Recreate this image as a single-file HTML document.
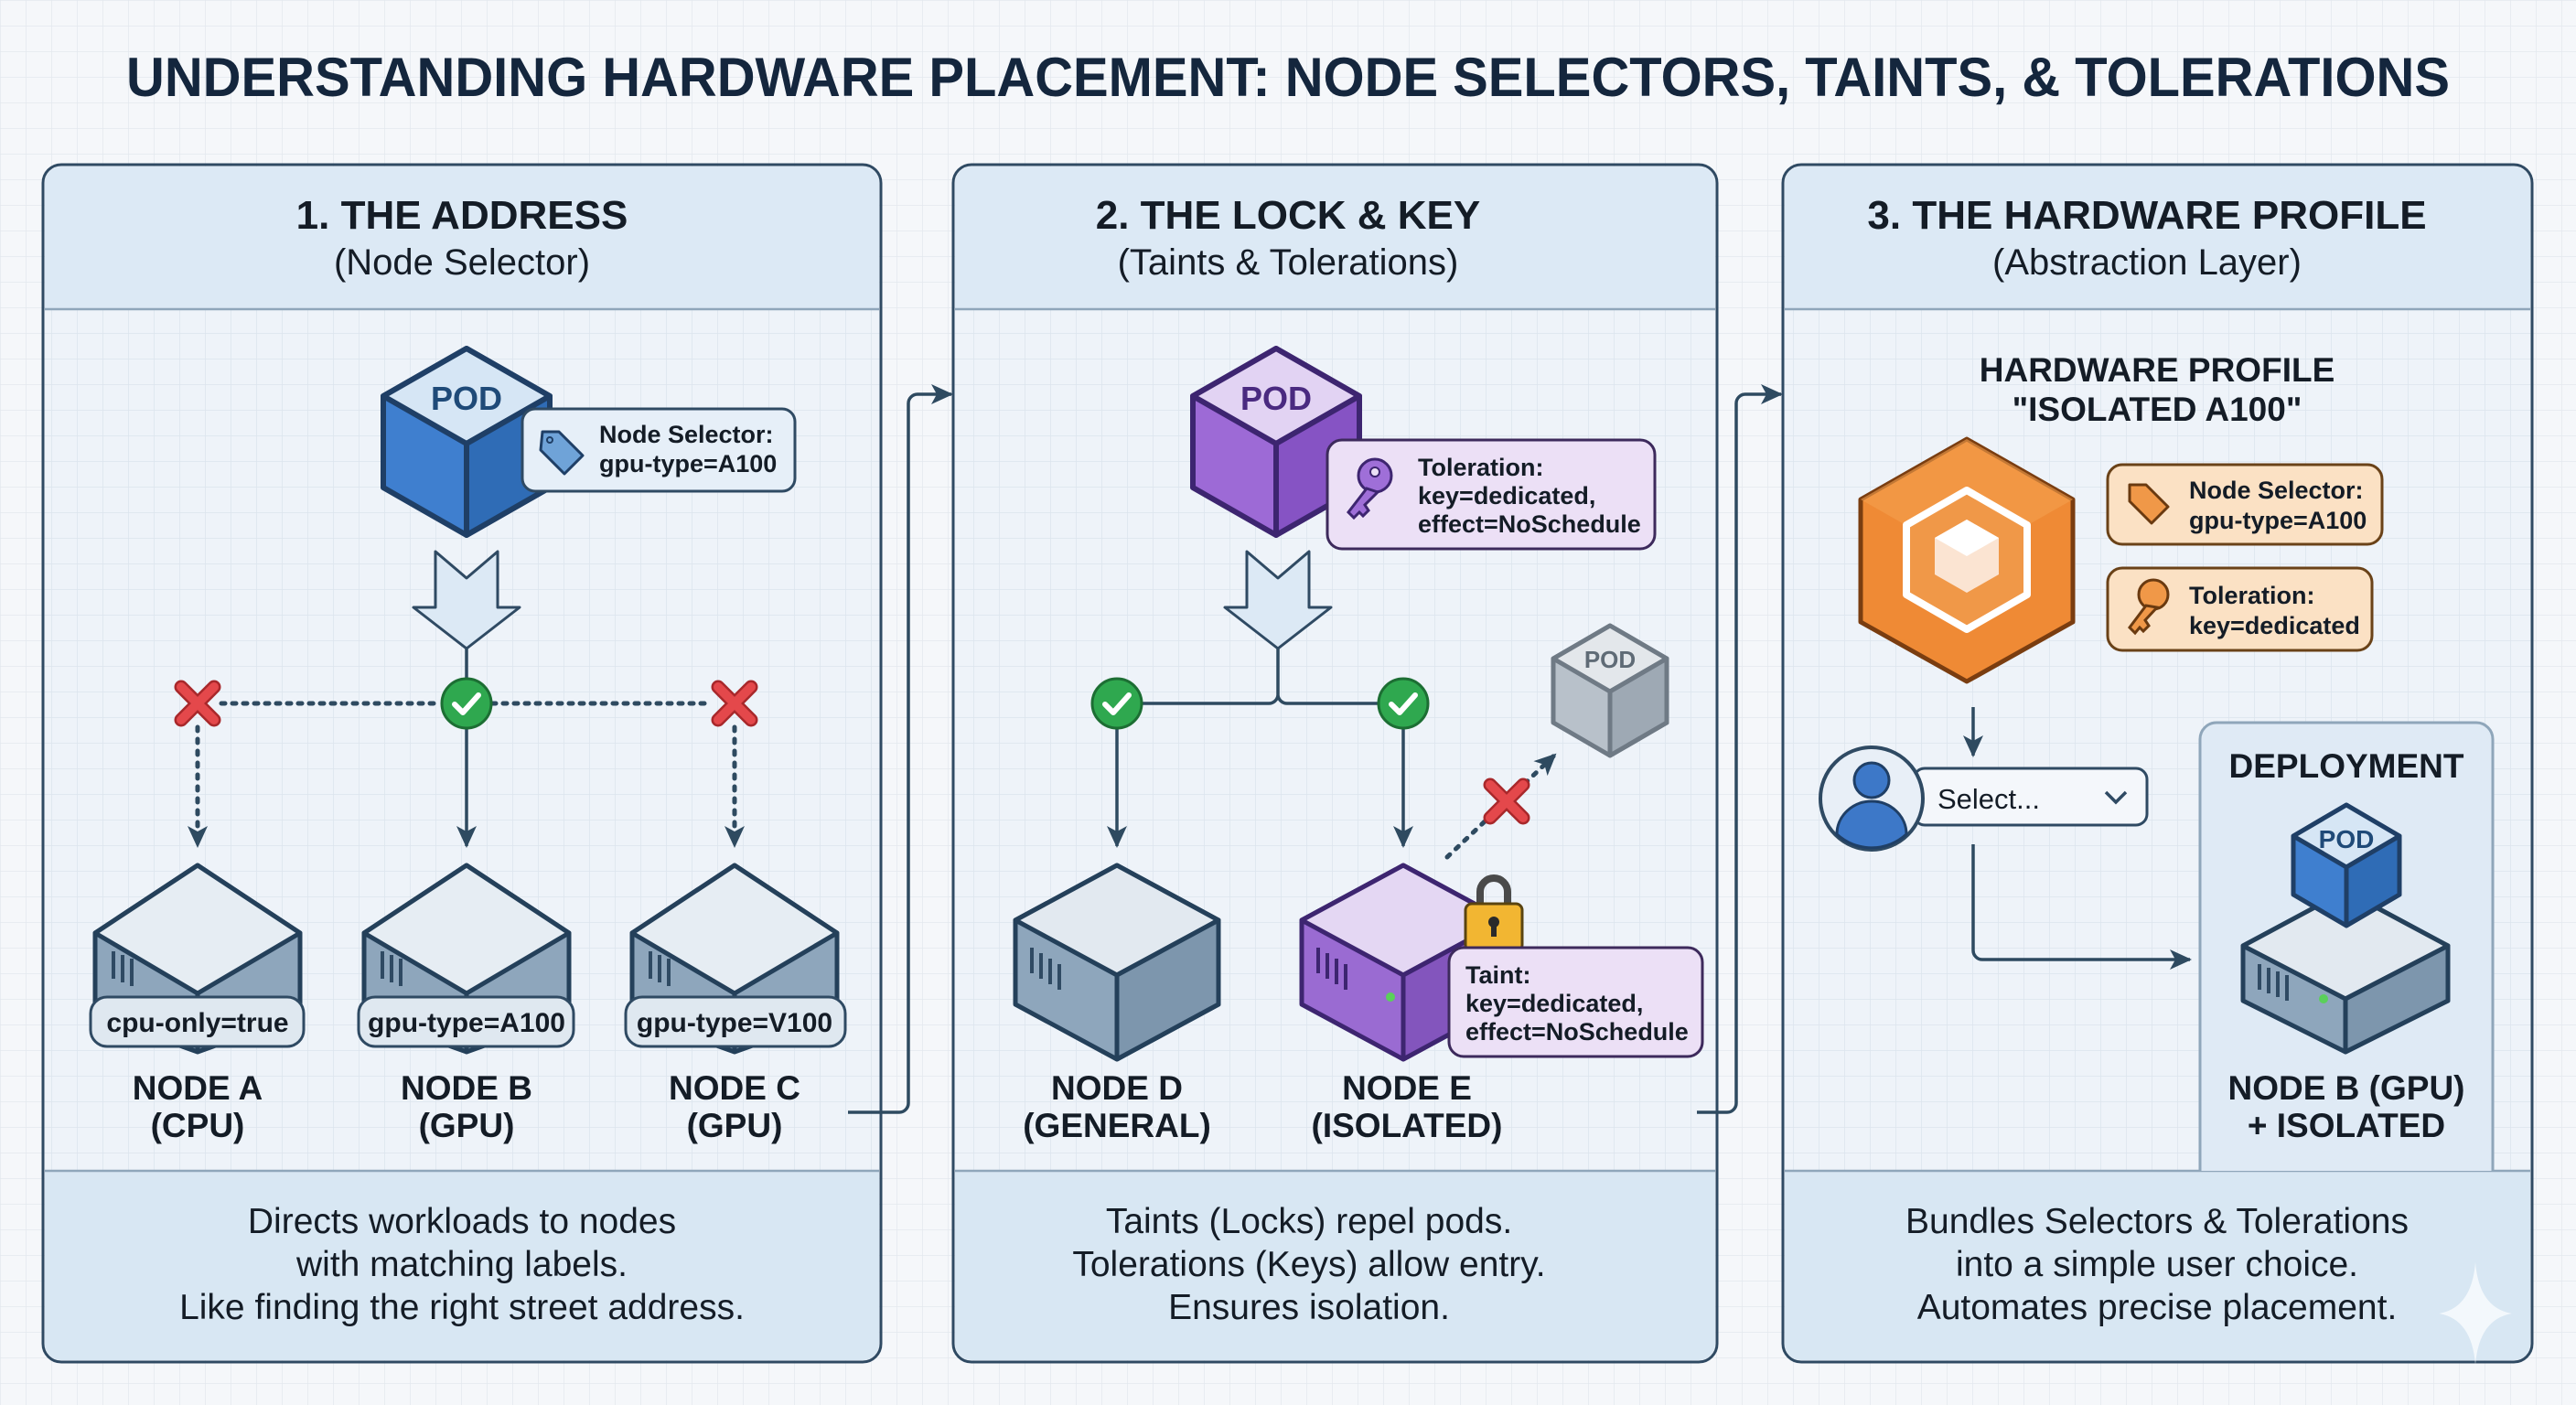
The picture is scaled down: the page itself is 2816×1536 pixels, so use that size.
<!DOCTYPE html>
<html><head><meta charset="utf-8"><style>
html,body{margin:0;padding:0;width:2816px;height:1536px;overflow:hidden;background:#f5f7fa}
svg{display:block}
text{font-family:"Liberation Sans",sans-serif}
</style></head><body>
<svg width="2816" height="1536" viewBox="0 0 2816 1536" xmlns="http://www.w3.org/2000/svg">
<defs>
<pattern id="g" width="28" height="28" patternUnits="userSpaceOnUse"><path d="M28 0H0V28" fill="none" stroke="#e3e8ee" stroke-width="1.5"/></pattern>
<pattern id="g2" width="28" height="28" patternUnits="userSpaceOnUse"><rect width="28" height="28" fill="#eef3f9"/><path d="M28 0H0V28" fill="none" stroke="#dce4ee" stroke-width="1.5"/></pattern>
<marker id="ahb" markerWidth="26" markerHeight="26" refX="22" refY="13" orient="auto" markerUnits="userSpaceOnUse"><path d="M0 2L24 13L0 24L6 13z" fill="#2e4a60"/></marker>
<g id="chk"><circle r="27" fill="#2fa84f" stroke="#1c6e33" stroke-width="3"/><path d="M-13 1L-4 10L13 -9" fill="none" stroke="#fff" stroke-width="6" stroke-linecap="round" stroke-linejoin="round"/></g>
<g id="xx"><path d="M-18 -18L18 18M18 -18L-18 18" stroke="#a8282b" stroke-width="15" stroke-linecap="round"/><path d="M-18 -18L18 18M18 -18L-18 18" stroke="#e4484b" stroke-width="10" stroke-linecap="round"/></g>
</defs>
<rect width="2816" height="1536" fill="url(#g)"/>

<text x="1408" y="105" text-anchor="middle" font-size="60" font-weight="700" fill="#14263d" textLength="2540" lengthAdjust="spacingAndGlyphs">UNDERSTANDING HARDWARE PLACEMENT: NODE SELECTORS, TAINTS, &amp; TOLERATIONS</text>

<g stroke="#2f4a63" stroke-width="3">
<rect x="47" y="180" width="916" height="1309" rx="20" fill="url(#g2)"/>
<rect x="1042" y="180" width="835" height="1309" rx="20" fill="url(#g2)"/>
<rect x="1949" y="180" width="819" height="1309" rx="20" fill="url(#g2)"/>
</g>
<g fill="#dce9f5">
<path d="M49 338V200a18 18 0 0 1 18-18H943a18 18 0 0 1 18 18V338z"/>
<path d="M1044 338V200a18 18 0 0 1 18-18H1857a18 18 0 0 1 18 18V338z"/>
<path d="M1951 338V200a18 18 0 0 1 18-18H2748a18 18 0 0 1 18 18V338z"/>
</g>
<g fill="#d8e7f3">
<path d="M49 1280V1469a18 18 0 0 0 18 18H943a18 18 0 0 0 18-18V1280z"/>
<path d="M1044 1280V1469a18 18 0 0 0 18 18H1857a18 18 0 0 0 18-18V1280z"/>
<path d="M1951 1280V1469a18 18 0 0 0 18 18H2748a18 18 0 0 0 18-18V1280z"/>
</g>
<g stroke="#8fa6ba" stroke-width="2.5">
<path d="M49 338H961M1044 338H1875M1951 338H2766"/>
<path d="M49 1280H961M1044 1280H1875M1951 1280H2766"/>
</g>

<g text-anchor="middle" fill="#141c26">
<text x="505" y="250" font-size="44" font-weight="700">1. THE ADDRESS</text>
<text x="505" y="300" font-size="40">(Node Selector)</text>
<text x="1408" y="250" font-size="44" font-weight="700">2. THE LOCK &amp; KEY</text>
<text x="1408" y="300" font-size="40">(Taints &amp; Tolerations)</text>
<text x="2347" y="250" font-size="44" font-weight="700">3. THE HARDWARE PROFILE</text>
<text x="2347" y="300" font-size="40">(Abstraction Layer)</text>
</g>
<g text-anchor="middle" fill="#141c26" font-size="39">
<text x="505" y="1348">Directs workloads to nodes</text>
<text x="505" y="1395">with matching labels.</text>
<text x="505" y="1442">Like finding the right street address.</text>
<text x="1431" y="1348">Taints (Locks) repel pods.</text>
<text x="1431" y="1395">Tolerations (Keys) allow entry.</text>
<text x="1431" y="1442">Ensures isolation.</text>
<text x="2358" y="1348">Bundles Selectors &amp; Tolerations</text>
<text x="2358" y="1395">into a simple user choice.</text>
<text x="2358" y="1442">Automates precise placement.</text>
</g>

<g fill="none" stroke="#2e4a60" stroke-width="3.5">
<path d="M927 1216H983a10 10 0 0 0 10-10V441a10 10 0 0 1 10-10H1040" marker-end="url(#ahb)"/>
<path d="M1855 1216H1888a10 10 0 0 0 10-10V441a10 10 0 0 1 10-10H1947" marker-end="url(#ahb)"/>
</g>

<!-- ===== PANEL 1 ===== -->
<g stroke="#1f3f66" stroke-width="6" stroke-linejoin="round">
<path d="M510 381L601 433V533L510 585L419 533V433Z" fill="#3f7fcf"/>
<path d="M510 381L601 433L510 485L419 433Z" fill="#d6e6f5"/>
<path d="M510 485V585L601 533V433Z" fill="#2f6cb6"/>
</g>
<text x="510" y="448" text-anchor="middle" font-size="36" font-weight="700" fill="#1f4a78">POD</text>
<rect x="571" y="447" width="298" height="90" rx="14" fill="#e6eff8" stroke="#2f4a63" stroke-width="3"/>
<path d="M593 472h18l26 26l-20 20l-26 -26z" fill="#6fa3d8" stroke="#1f3f66" stroke-width="3" stroke-linejoin="round"/>
<circle cx="601" cy="481" r="3" fill="none" stroke="#1f3f66" stroke-width="2"/>
<text x="655" y="484" font-size="27" font-weight="700" fill="#141c26">Node Selector:</text>
<text x="655" y="516" font-size="27" font-weight="700" fill="#141c26">gpu-type=A100</text>
<path d="M476 603L510 632L544 603V664H568L510 709L452 664H476Z" fill="#dce9f5" stroke="#2f4a63" stroke-width="3" stroke-linejoin="round"/>
<g stroke="#2e4a60" stroke-width="3.5" fill="none">
<path d="M510 709V742"/>
<path d="M242 769H482M538 769H778" stroke-dasharray="4 8" stroke-linecap="round" stroke-width="5"/>
<path d="M510 796V925" marker-end="url(#ahb)"/>
<path d="M216 795V925" stroke-dasharray="4 9" stroke-linecap="round" stroke-width="5" marker-end="url(#ahb)"/>
<path d="M803 795V925" stroke-dasharray="4 9" stroke-linecap="round" stroke-width="5" marker-end="url(#ahb)"/>
</g>
<use href="#xx" x="216" y="769"/><use href="#chk" x="510" y="769"/><use href="#xx" x="803" y="769"/>

<g stroke="#24405a" stroke-width="5" stroke-linejoin="round">
<g>
<path d="M104 1020V1110L216 1150L328 1110V1020L216 946Z" fill="#8ea6bc"/>
<path d="M104 1020L216 946L328 1020L216 1086Z" fill="#e6edf3"/>
<path d="M216 1086V1150" fill="none"/>
</g>
<g transform="translate(294 0)">
<path d="M104 1020V1110L216 1150L328 1110V1020L216 946Z" fill="#8ea6bc"/>
<path d="M104 1020L216 946L328 1020L216 1086Z" fill="#e6edf3"/>
<path d="M216 1086V1150" fill="none"/>
</g>
<g transform="translate(587 0)">
<path d="M104 1020V1110L216 1150L328 1110V1020L216 946Z" fill="#8ea6bc"/>
<path d="M104 1020L216 946L328 1020L216 1086Z" fill="#e6edf3"/>
<path d="M216 1086V1150" fill="none"/>
</g>
</g>
<g stroke="#2f4a63" stroke-width="4">
<path d="M124 1040v30M134 1044v30M144 1048v30"/>
<path d="M418 1040v30M428 1044v30M438 1048v30"/>
<path d="M711 1040v30M721 1044v30M731 1048v30"/>
</g>
<g fill="#dfe8f0" stroke="#2f4a63" stroke-width="3">
<rect x="99" y="1090" width="233" height="54" rx="18"/>
<rect x="392" y="1090" width="235" height="54" rx="18"/>
<rect x="684" y="1090" width="240" height="54" rx="18"/>
</g>
<g text-anchor="middle" font-size="30" font-weight="700" fill="#141c26">
<text x="216" y="1128">cpu-only=true</text>
<text x="510" y="1128">gpu-type=A100</text>
<text x="803" y="1128">gpu-type=V100</text>
</g>
<g text-anchor="middle" font-size="37" font-weight="700" fill="#141c26">
<text x="216" y="1202">NODE A</text><text x="216" y="1243">(CPU)</text>
<text x="510" y="1202">NODE B</text><text x="510" y="1243">(GPU)</text>
<text x="803" y="1202">NODE C</text><text x="803" y="1243">(GPU)</text>
</g>

<!-- ===== PANEL 2 ===== -->
<g stroke="#3d2570" stroke-width="6" stroke-linejoin="round">
<path d="M1395 381L1486 433V533L1395 585L1304 533V433Z" fill="#9d6ad6"/>
<path d="M1395 381L1486 433L1395 485L1304 433Z" fill="#e2d3f3"/>
<path d="M1395 485V585L1486 533V433Z" fill="#8653c4"/>
</g>
<text x="1395" y="448" text-anchor="middle" font-size="36" font-weight="700" fill="#4a2a80">POD</text>
<rect x="1451" y="481" width="358" height="119" rx="16" fill="#ece0f6" stroke="#3d2a5c" stroke-width="3"/>
<g fill="#9f6fd8" stroke="#3d2570" stroke-width="3">
<circle cx="1503" cy="520" r="18"/>
<path d="M1494 534L1474 560L1480 566L1486 560L1490 564L1496 558L1492 552L1506 538Z"/>
</g>
<circle cx="1503" cy="516" r="5" fill="#ece0f6" stroke="#3d2570" stroke-width="2"/>
<g font-size="27" font-weight="700" fill="#141c26">
<text x="1550" y="520">Toleration:</text><text x="1550" y="551">key=dedicated,</text><text x="1550" y="582">effect=NoSchedule</text>
</g>
<path d="M1363 603L1397 632L1431 603V664H1455L1397 709L1339 664H1363Z" fill="#dce9f5" stroke="#2f4a63" stroke-width="3" stroke-linejoin="round"/>
<g stroke="#2e4a60" stroke-width="3.5" fill="none">
<path d="M1397 709V760M1248 769H1387a10 10 0 0 0 10-9a10 10 0 0 0 10 9H1507"/>
<path d="M1221 796V925" marker-end="url(#ahb)"/>
<path d="M1534 796V925" marker-end="url(#ahb)"/>
<path d="M1582 937L1700 825" stroke-dasharray="4 9" stroke-linecap="round" stroke-width="5" marker-end="url(#ahb)"/>
</g>
<use href="#chk" x="1221" y="769"/><use href="#chk" x="1534" y="769"/>
<use href="#xx" x="1647" y="876"/>
<g stroke="#6f7a85" stroke-width="5" stroke-linejoin="round">
<path d="M1760 684L1822 720V790L1760 826L1698 790V720Z" fill="#b8c1ca"/>
<path d="M1760 684L1822 720L1760 756L1698 720Z" fill="#e3e7eb"/>
<path d="M1760 756V826L1822 790V720Z" fill="#9ea9b4"/>
</g>
<text x="1760" y="730" text-anchor="middle" font-size="26" font-weight="700" fill="#5f6b76">POD</text>
<!-- node D -->
<g stroke="#24405a" stroke-width="5" stroke-linejoin="round">
<path d="M1110 1006V1098L1221 1158L1332 1098V1006L1221 946Z" fill="#8ea6bc"/>
<path d="M1110 1006L1221 946L1332 1006L1221 1066Z" fill="#e2e9f0"/>
<path d="M1221 1066V1158L1332 1098V1006Z" fill="#7d96ad"/>
</g>
<g stroke="#2f4a63" stroke-width="4"><path d="M1128 1036v28M1138 1042v28M1148 1048v28M1158 1054v28"/></g>
<!-- node E -->
<g stroke="#3d2570" stroke-width="5" stroke-linejoin="round">
<path d="M1423 1006V1098L1534 1158L1645 1098V1006L1534 946Z" fill="#9a6bd2"/>
<path d="M1423 1006L1534 946L1645 1006L1534 1066Z" fill="#e4d7f3"/>
<path d="M1534 1066V1158L1645 1098V1006Z" fill="#8355bd"/>
</g>
<g stroke="#3d2570" stroke-width="4"><path d="M1441 1036v28M1451 1042v28M1461 1048v28M1471 1054v28"/></g>
<circle cx="1520" cy="1090" r="5" fill="#5ad05a"/>
<path d="M1618 990V975a15 15 0 0 1 30 0V990" fill="none" stroke="#4a4a4a" stroke-width="8"/>
<rect x="1602" y="988" width="62" height="52" rx="7" fill="#f2b632" stroke="#5a4410" stroke-width="3"/>
<circle cx="1633" cy="1008" r="6" fill="#2a2a2a"/><rect x="1630" y="1010" width="6" height="14" fill="#2a2a2a"/>
<rect x="1584" y="1036" width="277" height="119" rx="16" fill="#ece0f6" stroke="#3d2a5c" stroke-width="3"/>
<g font-size="27" font-weight="700" fill="#141c26">
<text x="1602" y="1075">Taint:</text><text x="1602" y="1106">key=dedicated,</text><text x="1602" y="1137">effect=NoSchedule</text>
</g>
<g text-anchor="middle" font-size="37" font-weight="700" fill="#141c26">
<text x="1221" y="1202">NODE D</text><text x="1221" y="1243">(GENERAL)</text>
<text x="1538" y="1202">NODE E</text><text x="1538" y="1243">(ISOLATED)</text>
</g>

<!-- ===== PANEL 3 ===== -->
<g text-anchor="middle" font-size="37" font-weight="700" fill="#141c26">
<text x="2358" y="417">HARDWARE PROFILE</text>
<text x="2358" y="460">"ISOLATED A100"</text>
</g>
<path d="M2150 480L2266 546V680L2150 745L2034 680V546Z" fill="#ef8a35" stroke="#7a3d10" stroke-width="5" stroke-linejoin="round"/>
<path d="M2150 480L2266 546L2150 612L2034 546Z" fill="#f4a04f" opacity="0.6"/>
<path d="M2150 536L2216 574V650L2150 688L2084 650V574Z" fill="#f09848" stroke="#fff" stroke-width="8" stroke-linejoin="round"/>
<path d="M2150 568L2185 588V628L2150 648L2115 628V588Z" fill="#fbe4d2"/>
<path d="M2150 568L2185 588L2150 608L2115 588Z" fill="#fff"/>
<g fill="#fbe1c4" stroke="#6a4218" stroke-width="3">
<rect x="2304" y="508" width="300" height="87" rx="16"/>
<rect x="2304" y="621" width="289" height="90" rx="16"/>
</g>
<path d="M2328 530h18l24 24l-18 18l-24 -24z" fill="#f09848" stroke="#6a3a10" stroke-width="3" stroke-linejoin="round"/>
<g fill="#f09848" stroke="#6a3a10" stroke-width="3">
<circle cx="2354" cy="650" r="16"/>
<path d="M2346 662L2328 686L2334 692L2339 686L2343 690L2349 684L2345 678L2358 664Z"/>
</g>
<g font-size="27" font-weight="700" fill="#141c26">
<text x="2393" y="545">Node Selector:</text><text x="2393" y="578">gpu-type=A100</text>
<text x="2393" y="660">Toleration:</text><text x="2393" y="693">key=dedicated</text>
</g>
<g stroke="#2e4a60" stroke-width="3.5" fill="none">
<path d="M2157 773V826" marker-end="url(#ahb)"/>
<path d="M2157 923V1039a10 10 0 0 0 10 10H2394" marker-end="url(#ahb)"/>
</g>
<rect x="2092" y="840" width="255" height="62" rx="12" fill="#f4f7fb" stroke="#2f4a63" stroke-width="3"/>
<text x="2118" y="884" font-size="31" fill="#141c26">Select...</text>
<path d="M2302 866l11 11l11 -11" fill="none" stroke="#2f4a63" stroke-width="3.5"/>
<circle cx="2046" cy="873" r="56" fill="#e8eff7" stroke="#2f4a63" stroke-width="4"/>
<circle cx="2046" cy="853" r="19" fill="#3d78c8" stroke="#1f3f66" stroke-width="3"/>
<path d="M2008 912a38 36 0 0 1 76 0a56 56 0 0 1 -76 0z" fill="#3d78c8" stroke="#1f3f66" stroke-width="3"/>
<path d="M2405 1280V808a18 18 0 0 1 18-18H2707a18 18 0 0 1 18 18V1280" fill="#dfeaf5" stroke="#8fa6ba" stroke-width="3"/>
<text x="2565" y="850" text-anchor="middle" font-size="37" font-weight="700" fill="#141c26">DEPLOYMENT</text>
<g stroke="#24405a" stroke-width="5" stroke-linejoin="round">
<path d="M2452 1034V1094L2564 1150L2676 1094V1034L2564 974Z" fill="#8ea6bc"/>
<path d="M2452 1034L2564 974L2676 1034L2564 1092Z" fill="#e2e9f0"/>
<path d="M2564 1092V1150L2676 1094V1034Z" fill="#7d96ad"/>
</g>
<g stroke="#2f4a63" stroke-width="4"><path d="M2470 1054v28M2480 1058v28M2490 1062v28M2500 1066v28"/></g>
<circle cx="2540" cy="1092" r="5" fill="#5ad05a"/>
<g stroke="#1f3f66" stroke-width="5" stroke-linejoin="round">
<path d="M2565 880L2623 914V978L2565 1012L2507 978V914Z" fill="#3f7fcf"/>
<path d="M2565 880L2623 914L2565 948L2507 914Z" fill="#d6e6f5"/>
<path d="M2565 948V1012L2623 978V914Z" fill="#2f6cb6"/>
</g>
<text x="2565" y="927" text-anchor="middle" font-size="28" font-weight="700" fill="#1f4a78">POD</text>
<g text-anchor="middle" font-size="37" font-weight="700" fill="#141c26">
<text x="2565" y="1202">NODE B (GPU)</text><text x="2565" y="1243">+ ISOLATED</text>
</g>
<path d="M2706 1380Q2710 1430 2746 1436Q2710 1442 2706 1492Q2702 1442 2666 1436Q2702 1430 2706 1380Z" fill="#ffffff" opacity="0.7"/>
</svg>
</body></html>
